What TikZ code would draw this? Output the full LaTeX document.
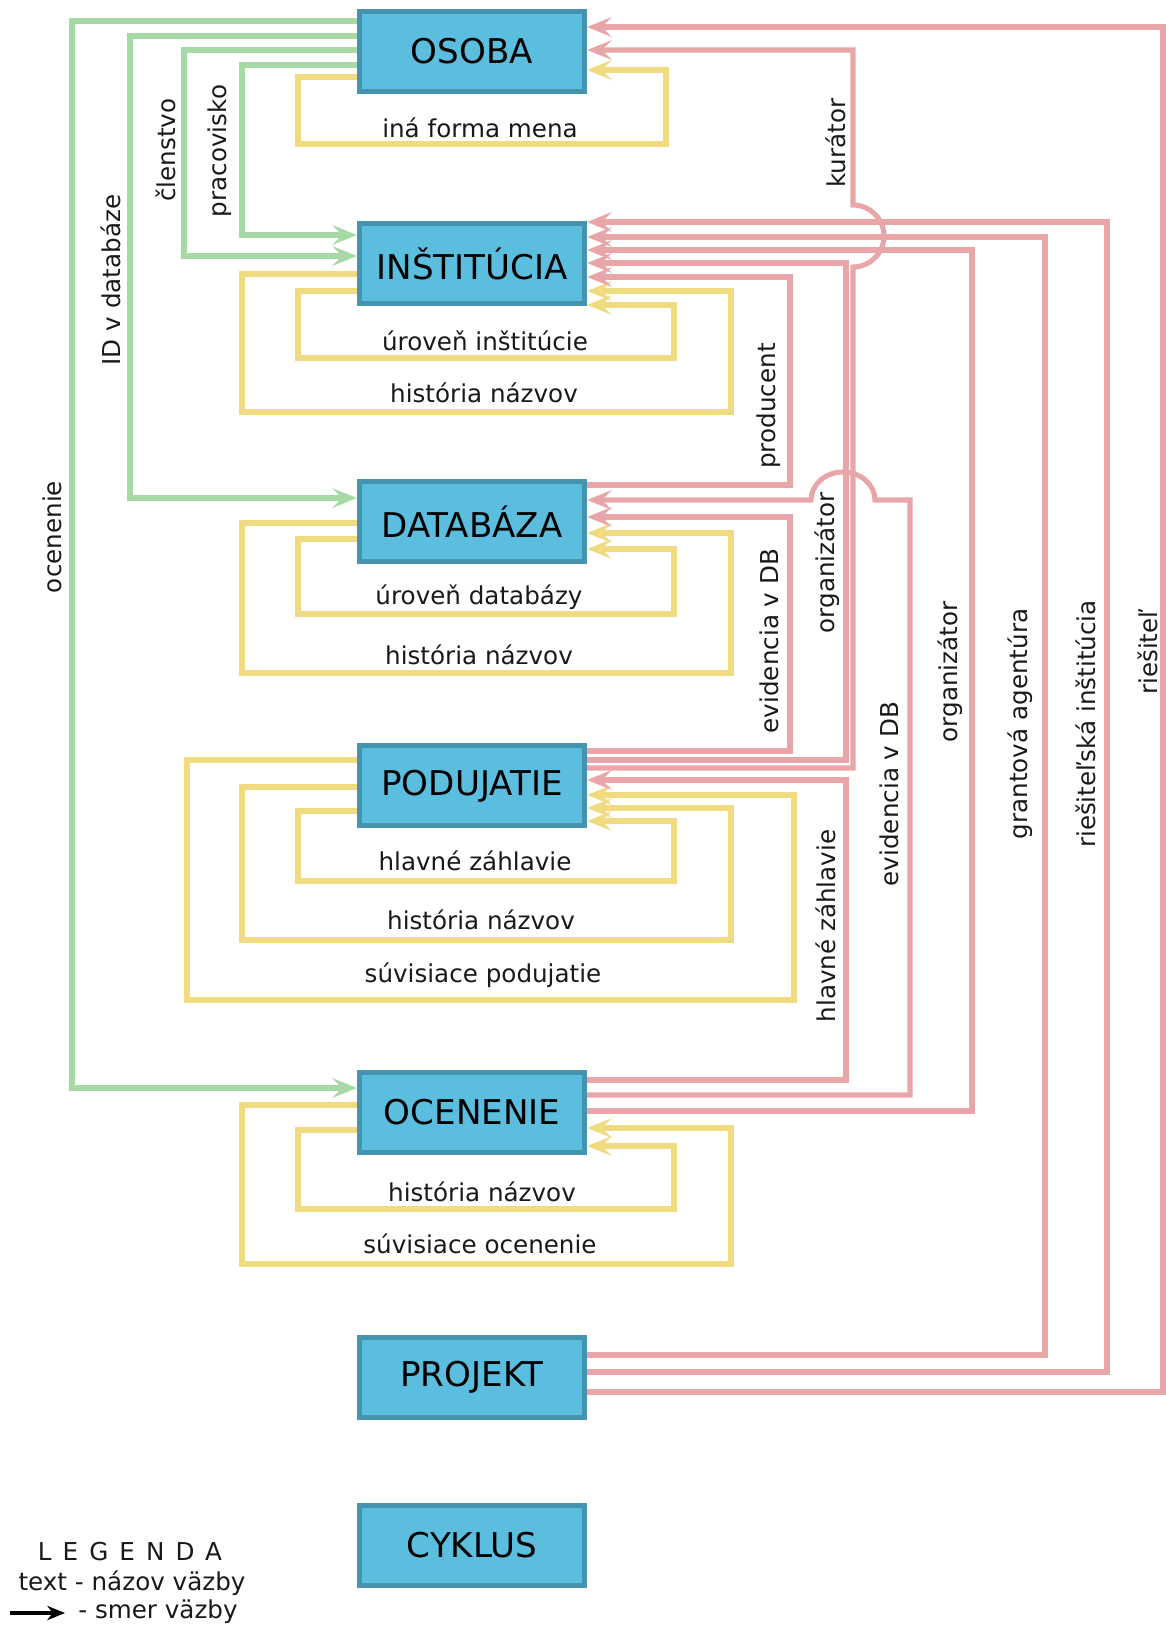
\documentclass[tikz,border=0pt]{standalone}
\usepackage{fontspec}
\setmainfont{DejaVu Sans}
\newfontfamily\spacedfont[LetterSpace=45]{DejaVu Sans}
\usetikzlibrary{arrows.meta, positioning}

\definecolor{boxfill}{RGB}{91,190,222}
\definecolor{boxline}{RGB}{68,148,176}
\definecolor{relgreen}{RGB}{166,217,166}
\definecolor{relred}{RGB}{232,166,168}
\definecolor{relyellow}{RGB}{240,219,128}

\tikzset{
    entity/.style={
        rectangle, minimum width=2.25cm, minimum height=0.80cm, text centered,
        draw=boxline, line width=0.05cm, fill=boxfill, font=\fontsize{9.7}{11}\selectfont
    },
    rel/.style={
        line width=1.45pt, -{Stealth[length=7pt, width=5.6pt, inset=2.8pt]}
    },
    greenrel/.style={rel, draw=relgreen},
    redrel/.style={rel, draw=relred},
    yellowrel/.style={rel, draw=relyellow},
    relname/.style={font=\fontsize{7}{8}\selectfont, text=black!90, inner sep=1pt},
    vrelname/.style={relname, rotate=90},
    legarrow/.style={line width=1pt, -{Stealth[length=5pt, width=4pt, inset=1.5pt]}}
}

\begin{document}
\begin{tikzpicture}[x=0.01cm, y=-0.01cm]
        \useasboundingbox (0,0) rectangle (1166,1626);

        % Entities
        \node (osoba) [entity] at (472,51.5) {OSOBA};
        \node (instit) [entity, below=1.27cm of osoba] {INŠTITÚCIA};
        \node (databaza) [entity, below=1.73cm of instit] {DATABÁZA};
        \node (podujatie) [entity, below=1.79cm of databaza] {PODUJATIE};
        \node (ocenenie) [entity, below=2.41cm of podujatie] {OCENENIE};
        \node (projekt) [entity, below=1.80cm of ocenenie] {PROJEKT};
        \node (cyklus) [entity, below=0.83cm of projekt] {CYKLUS};

        % Green relations (left)
        \draw [greenrel] (osoba.west |- 0,21) -| (72,1088) -- (ocenenie.west |- 0,1088);
        \draw [greenrel] (osoba.west |- 0,36) -| (130,498) -- (databaza.west |- 0,498);
        \draw [greenrel] (osoba.west |- 0,50) -| (184,256) -- (instit.west |- 0,256);
        \draw [greenrel] (osoba.west |- 0,65) -| (242,235) -- (instit.west |- 0,235);

        % Yellow relations (self loops)
        \draw [yellowrel] (osoba.west |- 0,77) -| (298,144) -| (666,70) -- (osoba.east |- 0,70);
        \draw [yellowrel] (instit.west |- 0,274) -| (242,412) -| (731,291) -- (instit.east |- 0,291);
        \draw [yellowrel] (instit.west |- 0,291) -| (298,358) -| (674,305) -- (instit.east |- 0,305);
        \draw [yellowrel] (databaza.west |- 0,523) -| (242,673) -| (731,533) -- (databaza.east |- 0,533);
        \draw [yellowrel] (databaza.west |- 0,539) -| (298,614) -| (674,549) -- (databaza.east |- 0,549);
        \draw [yellowrel] (podujatie.west |- 0,760) -| (187,1000) -| (794,795) -- (podujatie.east |- 0,795);
        \draw [yellowrel] (podujatie.west |- 0,787) -| (242,940) -| (731,808) -- (podujatie.east |- 0,808);
        \draw [yellowrel] (podujatie.west |- 0,811) -| (298,881) -| (674,821) -- (podujatie.east |- 0,821);
        \draw [yellowrel] (ocenenie.west |- 0,1105) -| (242,1264) -| (731,1128) -- (ocenenie.east |- 0,1128);
        \draw [yellowrel] (ocenenie.west |- 0,1130) -| (298,1209) -| (674,1146) -- (ocenenie.east |- 0,1146);

        % Red relations (right)
        \draw [redrel] (projekt.east |- 0,1392) -| (1163,27) -- (osoba.east |- 0,27);
        \draw [redrel] (podujatie.east |- 0,768) -| (853,267)
            .. controls (870,267) and (884,253) .. (884,236)
            .. controls (884,219) and (870,205) .. (853,205)
            |- (osoba.east |- 0,50);
        \draw [redrel] (podujatie.east |- 0,760) -| (846,263) -- (instit.east |- 0,263);
        \draw [redrel] (podujatie.east |- 0,751) -| (790,517) -- (databaza.east |- 0,517);
        \draw [redrel] (databaza.east |- 0,485) -| (790,277) -- (instit.east |- 0,277);
        \draw [redrel] (ocenenie.east |- 0,1080) -| (846,780) -- (podujatie.east |- 0,780);
        \draw [redrel] (ocenenie.east |- 0,1095) -| (910,500) -- (875,500)
            .. controls (875,485) and (861,472) .. (843,472)
            .. controls (825,472) and (811,485) .. (811,500)
            -- (databaza.east |- 0,500);
        \draw [redrel] (ocenenie.east |- 0,1111) -| (972,250) -- (instit.east |- 0,250);
        \draw [redrel] (projekt.east |- 0,1355) -| (1045,237) -- (instit.east |- 0,237);
        \draw [redrel] (projekt.east |- 0,1372) -| (1107,222) -- (instit.east |- 0,222);

        % Labels for green relations
        \node (locenenie) [vrelname] at (52,537) {ocenenie};
        \node (liddb) [vrelname] at (111,280) {ID v databáze};
        \node (lclen) [vrelname] at (166,150) {členstvo};
        \node (lprac) [vrelname] at (220,151) {pracovisko};

        % Labels for red relations
        \node (lkurator) [vrelname] at (836,143) {kurátor};
        \node (lproducent) [vrelname] at (769,406) {producent};
        \node (levidpod) [vrelname] at (769,641) {evidencia v DB};
        \node (lorgpod) [vrelname] at (827,563) {organizátor};
        \node (lhlavoce) [vrelname] at (826,926) {hlavné záhlavie};
        \node (levidoce) [vrelname] at (889,794) {evidencia v DB};
        \node (lorgoce) [vrelname] at (950,672) {organizátor};
        \node (lgrant) [vrelname] at (1020,724) {grantová agentúra};
        \node (lriesinst) [vrelname] at (1086,724) {riešiteľská inštitúcia};
        \node (lriesitel) [vrelname] at (1148,652) {riešiteľ};

        % Labels for yellow relations
        \node (linaforma) [relname] at (480,128) {iná forma mena};
        \node (lurovinst) [relname] at (485,341) {úroveň inštitúcie};
        \node (lhistinst) [relname] at (484,393) {história názvov};
        \node (lurovdb) [relname] at (479,597) {úroveň databázy};
        \node (lhistdb) [relname] at (479,655) {história názvov};
        \node (lhlavpod) [relname] at (475,861) {hlavné záhlavie};
        \node (lhistpod) [relname] at (481,920) {história názvov};
        \node (lsuvpod) [relname] at (483,975) {súvisiace podujatie};
        \node (lhistoce) [relname] at (482,1192) {história názvov};
        \node (lsuvoce) [relname] at (480,1244) {súvisiace ocenenie};

        % Legend
        \node (legtitle) [relname, font=\fontsize{7}{8}\spacedfont] at (130,1552) {LEGENDA};
        \node (legtext) [relname] at (132,1583) {text - názov väzby};
        \coordinate (legfrom) at (10,1613);
        \coordinate (legto) at (65,1613);
        \draw [legarrow] (legfrom) -- (legto);
        \node (legdir) [relname] at (158,1612) {- smer väzby};
    \end{tikzpicture}
\end{document}
